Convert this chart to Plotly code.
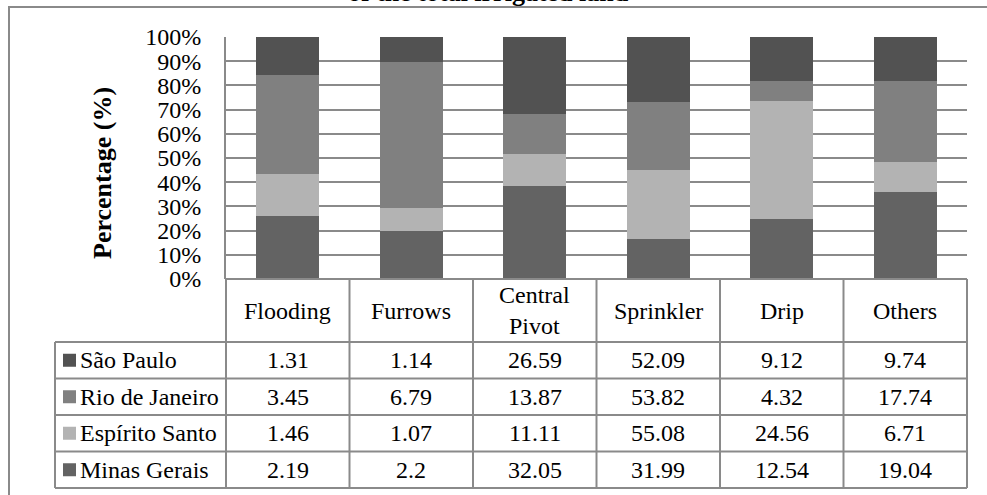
import plotly.graph_objects as go

methods = ["Flooding", "Furrows", "Central Pivot", "Sprinkler", "Drip", "Others"]
method_labels = ["Flooding", "Furrows", "Central<br>Pivot", "Sprinkler", "Drip", "Others"]
states = ["São Paulo", "Rio de Janeiro", "Espírito Santo", "Minas Gerais"]
sao_paulo = [1.31, 1.14, 26.59, 52.09, 9.12, 9.74]
rio_de_janeiro = [3.45, 6.79, 13.87, 53.82, 4.32, 17.74]
espirito_santo = [1.46, 1.07, 11.11, 55.08, 24.56, 6.71]
minas_gerais = [2.19, 2.2, 32.05, 31.99, 12.54, 19.04]
y_ticks = [0, 10, 20, 30, 40, 50, 60, 70, 80, 90, 100]
y_tick_labels = [f"{t}%" for t in y_ticks]
title_text = "of the total irrigated land"
y_title = "Percentage (%)"

values = {"São Paulo": sao_paulo, "Rio de Janeiro": rio_de_janeiro,
          "Espírito Santo": espirito_santo, "Minas Gerais": minas_gerais}
colors = {"São Paulo": "#525252", "Rio de Janeiro": "#808080",
          "Espírito Santo": "#b3b3b3", "Minas Gerais": "#636363"}

W, H = 987, 495
L, R, T, B = 226, 967, 37, 279
FONT = "Liberation Serif, Times New Roman, serif"
FS = 24
LINE = "#8a8a8a"


def px_x(px):
    return (px - L) / (R - L)


def px_y(py):
    return (B - py) / (B - T)


fig = go.Figure()
for s in ["Minas Gerais", "Espírito Santo", "Rio de Janeiro", "São Paulo"]:
    fig.add_trace(go.Bar(x=list(range(len(methods))), y=values[s], name=s,
                         marker=dict(color=colors[s], line=dict(width=0))))

shapes = []
annotations = []

# outer chart border (clipped by page)
shapes.append(dict(type="rect", xref="paper", yref="paper",
                   x0=px_x(9), x1=px_x(1010), y0=px_y(7), y1=px_y(520),
                   line=dict(color=LINE, width=2), fillcolor="rgba(0,0,0,0)", layer="below"))

# table geometry
header_bottom = 342
row_edges = [342, 378.5, 415, 451.5, 488]
table_left = 55
n = len(methods)
for i in range(n + 1):
    xp = i / n
    shapes.append(dict(type="line", xref="paper", yref="paper",
                       x0=xp, x1=xp, y0=px_y(B), y1=px_y(row_edges[-1]),
                       line=dict(color=LINE, width=2)))
shapes.append(dict(type="line", xref="paper", yref="paper",
                   x0=px_x(table_left), x1=px_x(table_left),
                   y0=px_y(header_bottom), y1=px_y(row_edges[-1]),
                   line=dict(color=LINE, width=2)))
for ry in row_edges:
    shapes.append(dict(type="line", xref="paper", yref="paper",
                       x0=px_x(table_left), x1=1, y0=px_y(ry), y1=px_y(ry),
                       line=dict(color=LINE, width=2)))
shapes.append(dict(type="line", xref="paper", yref="paper",
                   x0=0, x1=1, y0=0, y1=0, line=dict(color=LINE, width=2)))

# header labels
for i, lab in enumerate(method_labels):
    annotations.append(dict(x=(i + 0.5) / n, y=px_y((B + header_bottom) / 2),
                            xref="paper", yref="paper", text=lab, showarrow=False,
                            font=dict(family=FONT, size=FS, color="black"),
                            xanchor="center", yanchor="middle"))

# rows
for r, s in enumerate(states):
    cy = (row_edges[r] + row_edges[r + 1]) / 2
    shapes.append(dict(type="rect", xref="paper", yref="paper",
                       x0=px_x(63), x1=px_x(76), y0=px_y(cy - 6.5), y1=px_y(cy + 6.5),
                       line=dict(width=0), fillcolor=colors[s]))
    annotations.append(dict(x=px_x(78), y=px_y(cy), xref="paper", yref="paper",
                            text=s, showarrow=False, xanchor="left", yanchor="middle",
                            font=dict(family=FONT, size=FS, color="black")))
    for i, v in enumerate(values[s]):
        annotations.append(dict(x=(i + 0.5) / n, y=px_y(cy), xref="paper", yref="paper",
                                text=f"{v:g}", showarrow=False, xanchor="center",
                                yanchor="middle",
                                font=dict(family=FONT, size=FS, color="black")))

# y axis title
annotations.append(dict(x=px_x(102), y=px_y(173), xref="paper", yref="paper",
                        text=f"<b>{y_title}</b>", textangle=-90, showarrow=False,
                        xanchor="center", yanchor="middle",
                        font=dict(family=FONT, size=26, color="black")))
# chart title (mostly clipped at top, as in the reference)
annotations.append(dict(x=px_x(488), y=px_y(-7), xref="paper", yref="paper",
                        text=f"<b>{title_text}</b>", showarrow=False,
                        xanchor="center", yanchor="middle",
                        font=dict(family=FONT, size=26, color="black")))

fig.update_layout(
    width=W, height=H,
    margin=dict(l=L, r=W - R, t=T, b=H - B),
    barmode="stack", barnorm="percent", bargap=0.49,
    plot_bgcolor="white", paper_bgcolor="white",
    showlegend=False,
    font=dict(family=FONT, color="black"),
    shapes=shapes, annotations=annotations,
    xaxis=dict(range=[-0.5, n - 0.5], showticklabels=False, showgrid=False,
               zeroline=False, showline=False, ticks=""),
    yaxis=dict(range=[0, 100], tickvals=y_ticks, ticktext=y_tick_labels,
               showgrid=True, gridcolor=LINE, gridwidth=2, zeroline=False,
               showline=True, linecolor=LINE, linewidth=2, ticks="",
               ticklabelstandoff=18,
               tickfont=dict(family=FONT, size=FS, color="black")),
)

fig.write_html("out.html")
